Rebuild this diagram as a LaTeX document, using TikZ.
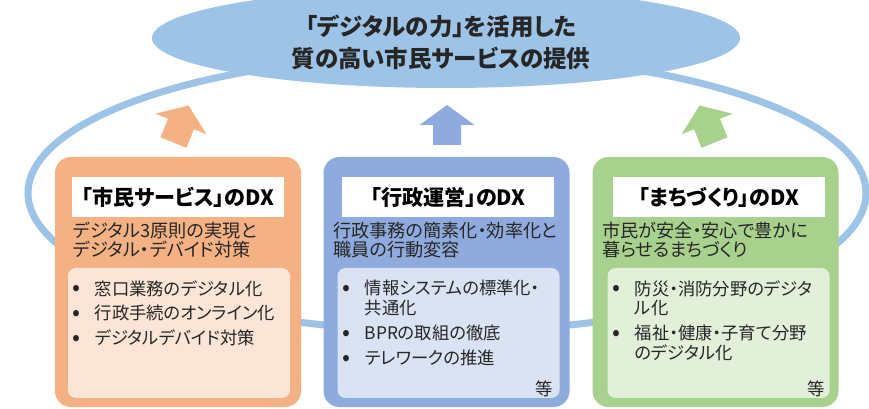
\documentclass[tikz,border=0pt]{standalone}
\usepackage{fontspec}
\setmainfont{Noto Sans CJK JP}[RawFeature=+palt]
\usepackage{xcolor}
\usepackage{tikz}
\usetikzlibrary{shapes,arrows,positioning}

\definecolor{ringblue}{HTML}{9DC3E6}
\definecolor{svcorange}{HTML}{F4B183}
\definecolor{svcorangelt}{HTML}{FBE5D6}
\definecolor{admblue}{HTML}{8FAADC}
\definecolor{admbluelt}{HTML}{DAE3F3}
\definecolor{towngreen}{HTML}{A9D18E}
\definecolor{towngreenlt}{HTML}{E2F0D9}
\definecolor{inktext}{HTML}{262626}

\tikzstyle{panel} = [rectangle, rounded corners=0.48cm, minimum width=7.38cm, minimum height=7.5cm]
\tikzstyle{headbox} = [rectangle, fill=white, minimum width=6.36cm, minimum height=1.2cm, inner sep=0pt, font=\fontsize{18}{21}\selectfont\bfseries]
\tikzstyle{subtext} = [anchor=west, align=left, inner sep=0pt, text=inktext, font=\fontsize{15.5}{16.4}\selectfont]
\tikzstyle{listtext} = [anchor=north west, align=left, inner sep=0pt, text=inktext, font=\fontsize{14.8}{17}\selectfont]
\tikzstyle{listbox} = [rectangle, rounded corners=0.24cm, minimum width=6.66cm, minimum height=3.9cm]
\tikzstyle{etcmark} = [inner sep=0pt, text=inktext, font=\fontsize{14.8}{17}\selectfont]
\tikzset{risearrow/.pic={\path[pic actions] (-0.42,-0.6) -- (0.42,-0.6) -- (0.42,0) -- (0.825,0) -- (0,0.6) -- (-0.825,0) -- (-0.42,0) -- cycle;}}

\newcommand{\bul}{\makebox[1.3em][l]{\raisebox{-0.05em}{\fontsize{20}{17}\selectfont •}}}
\newcommand{\hang}{\hspace*{1.3em}}

\begin{document}
\begin{tikzpicture}
    \useasboundingbox (0,0) rectangle (26.07,12.27);
    \clip (0,0) rectangle (26.07,12.27);

    % Ring behind everything
    \draw[ringblue, line width=6pt] (13.41,6.48) ellipse (12.57cm and 4.14cm);

    % Goal
    \node[ellipse, fill=ringblue, minimum width=17.64cm, minimum height=3cm] (goal) at (13.38,11.13) {};
    \node[align=center, inner sep=0pt, text=inktext, font=\fontsize{20}{28}\selectfont\bfseries] (goaltext) at (13.23,11.0) {「デジタルの力」を活用した\\質の高い市民サービスの提供};

    % Arrows up to the goal
    \pic[fill=svcorange, rotate=-22] (uporange) at (5.43,8.55) {risearrow};
    \pic[fill=admblue] (upblue) at (13.41,8.52) {risearrow};
    \pic[fill=towngreen, rotate=22] (upgreen) at (21.21,8.55) {risearrow};

    % Citizen services
    \node[panel, fill=svcorange] (citizen) at (5.34,3.81) {};
    \node[headbox] (citizenhead) at (5.34,6.345) {「市民サービス」のDX};
    \node[subtext] (citizensub) at (2.19,5.06) {デジタル3原則の実現と\\デジタル・デバイド対策};
    \node[listbox, fill=svcorangelt] (citizenbox) at (5.37,2.28) {};
    \node[listtext] (citizenlist) at (2.16,3.87) {\bul 窓口業務のデジタル化\\[4.3pt]\bul 行政手続のオンライン化\\[4.3pt]\bul デジタルデバイド対策};

    % Administration
    \node[panel, fill=admblue] (admin) at (13.395,3.81) {};
    \node[headbox] (adminhead) at (13.44,6.345) {「行政運営」のDX};
    \node[subtext] (adminsub) at (9.99,5.06) {行政事務の簡素化・効率化と\\職員の行動変容};
    \node[listbox, fill=admbluelt] (adminbox) at (13.455,2.28) {};
    \node[listtext] (adminlist) at (10.26,3.87) {\bul 情報システムの標準化・\\\hang 共通化\\[4.3pt]\bul BPRの取組の徹底\\[4.3pt]\bul テレワークの推進};
    \node[etcmark] (adminetc) at (16.32,0.60) {等};

    % Town development
    \node[panel, fill=towngreen] (town) at (21.465,3.81) {};
    \node[headbox] (townhead) at (21.57,6.345) {「まちづくり」のDX};
    \node[subtext] (townsub) at (18.06,5.06) {市民が安全・安心で豊かに\\暮らせるまちづくり};
    \node[listbox, fill=towngreenlt] (townbox) at (21.555,2.28) {};
    \node[listtext] (townlist) at (18.36,3.87) {\bul 防災・消防分野のデジタ\\\hang ル化\\[4.3pt]\bul 福祉・健康・子育て分野\\\hang のデジタル化};
    \node[etcmark] (townetc) at (24.48,0.60) {等};
\end{tikzpicture}
\end{document}
